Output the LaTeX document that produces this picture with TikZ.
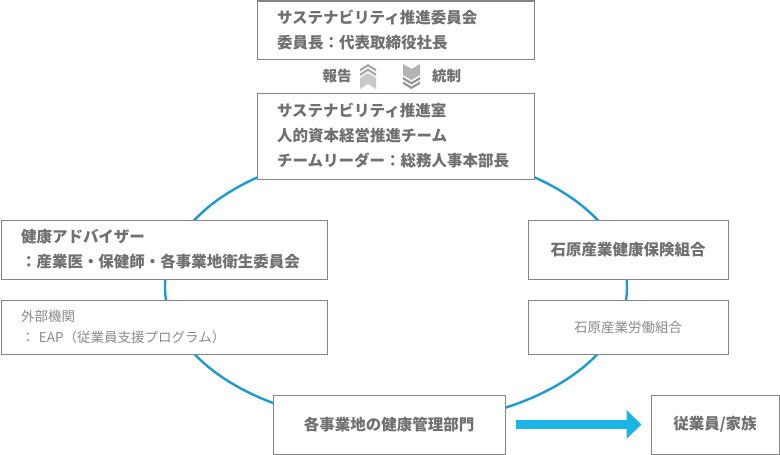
\documentclass[tikz,border=0pt]{standalone}
\usepackage{fontspec}
\newfontfamily\jp{Noto Sans CJK JP}
\usetikzlibrary{arrows.meta}
\definecolor{txt}{HTML}{707070}
\definecolor{txtl}{HTML}{8A8A8A}
\definecolor{bord}{HTML}{858585}
\definecolor{ring}{HTML}{1C9BCF}
\definecolor{arr}{HTML}{1CB6E6}
\definecolor{chevL}{HTML}{C8C8C8}
\definecolor{chevD}{HTML}{A6A6A6}
\tikzset{
  box/.style={draw=bord, line width=1pt, fill=white, inner ysep=0pt, text=txt,
    font=\jp\bfseries\fontsize{15.5}{25}\selectfont},
  lbox/.style={box, align=left, inner xsep=20pt},
  cbox/.style={box, align=center, inner xsep=0pt},
  lightbox/.style={lbox, text=txtl, font=\jp\fontsize{13.5}{21}\selectfont},
  lightcbox/.style={cbox, text=txtl, font=\jp\fontsize{13.5}{21}\selectfont},
  lab/.style={text=txt, font=\jp\bfseries\fontsize{14.5}{17}\selectfont, inner sep=0pt},
  ringline/.style={draw=ring, line width=2.4pt},
  bigarrow/.style={draw=arr, line width=9pt, -{Triangle[length=15pt,width=28pt]}}
}
\begin{document}
\begin{tikzpicture}[x=1pt,y=-1pt]
\useasboundingbox (0,0) rectangle (780,455);
\draw[ringline] (396,287) ellipse [x radius=231pt, y radius=137pt];

\node[lbox, text width=237pt, minimum width=277pt, minimum height=58pt] (top) at (395.5,30)
  {サステナビリティ推進委員会\\委員長：代表取締役社長};
\node[lbox, text width=237pt, minimum width=277pt, minimum height=86pt] (room) at (395.5,136)
  {サステナビリティ推進室\\人的資本経営推進チーム\\チームリーダー：総務人事本部長};
\node[lbox, text width=286pt, minimum width=326pt, minimum height=59pt] (adv) at (164,249.5)
  {健康アドバイザー\\：産業医・保健師・各事業地衛生委員会};
\node[lightbox, text width=286pt, minimum width=326pt, minimum height=54pt] (ext) at (164,327)
  {外部機関\\： EAP（従業員支援プログラム）};
\node[cbox, minimum width=200pt, minimum height=59pt] (kenpo) at (628,249.5)
  {石原産業健康保険組合};
\node[lightcbox, minimum width=200pt, minimum height=54pt] (union) at (628,327)
  {石原産業労働組合};
\node[cbox, minimum width=232pt, minimum height=59pt] (bot) at (389,424.5)
  {各事業地の健康管理部門};
\node[cbox, minimum width=128pt, minimum height=59pt] (emp) at (715,424.5)
  {従業員/家族};

\draw[bigarrow] ([xshift=10pt]bot.east) -- ([xshift=-9pt]emp.west);

\node[lab] (rep) at (337,76) {報告};
\node[lab] (ctl) at (446.5,76) {統制};

% up chevron icon
\fill[chevD] (360,69) -- (368,64) -- (376,69) -- (376,71.5) -- (368,66.5) -- (360,71.5) -- cycle;
\fill[chevD] (360,73.5) -- (368,68.5) -- (376,73.5) -- (376,76) -- (368,71) -- (360,76) -- cycle;
\fill[chevL] (360,78) -- (368,73) -- (376,78) -- (376,89) -- (368,84) -- (360,89) -- cycle;
% down chevron icon
\fill[chevD!85] (403,64) -- (411.5,69) -- (420,64) -- (420,75) -- (411.5,80) -- (403,75) -- cycle;
\fill[chevD!120] (403,79.5) -- (411.5,84.5) -- (420,79.5) -- (420,77) -- (411.5,82) -- (403,77) -- cycle;
\fill[chevD!120] (403,84) -- (411.5,89) -- (420,84) -- (420,81.5) -- (411.5,86.5) -- (403,81.5) -- cycle;
\end{tikzpicture}
\end{document}
